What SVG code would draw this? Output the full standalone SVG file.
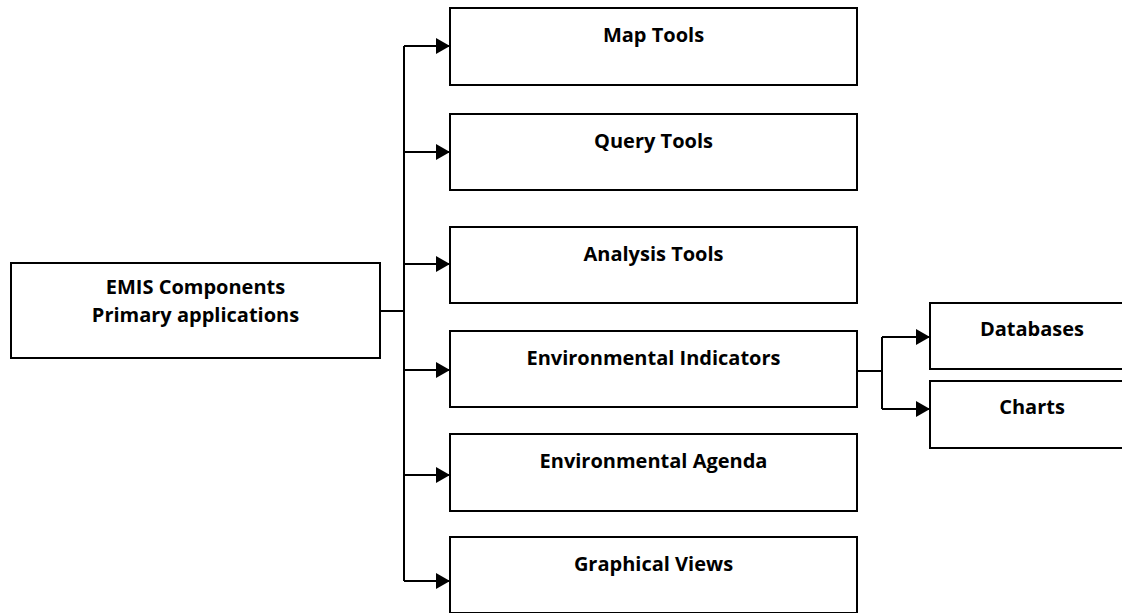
<svg xmlns="http://www.w3.org/2000/svg" width="1122" height="613" viewBox="0 0 1122 613">
<style>
.box{fill:#fff;stroke:#000;stroke-width:2}
.lbl{font-family:"Open Sans","Liberation Sans",sans-serif;font-weight:bold;font-size:20px;fill:#000;text-anchor:middle}
.con{fill:none;stroke:#000;stroke-width:2}
</style>
<defs>
<marker id="arr" markerUnits="userSpaceOnUse" markerWidth="15" markerHeight="18" refX="14" refY="8" orient="auto">
<path d="M0,0 L14,8 L0,16 Z" fill="#000"/>
</marker>
</defs>
<rect width="1122" height="613" fill="#fff"/>
<g id="connectors">
<path class="con" d="M380,311 H404"/>
<path class="con" d="M404,46 V581"/>
<path class="con" d="M404,46 H450" marker-end="url(#arr)"/>
<path class="con" d="M404,152 H450" marker-end="url(#arr)"/>
<path class="con" d="M404,264 H450" marker-end="url(#arr)"/>
<path class="con" d="M404,370 H450" marker-end="url(#arr)"/>
<path class="con" d="M404,475 H450" marker-end="url(#arr)"/>
<path class="con" d="M404,581 H450" marker-end="url(#arr)"/>
<path class="con" d="M857,371 H882"/>
<path class="con" d="M882,337 V409"/>
<path class="con" d="M882,337 H930" marker-end="url(#arr)"/>
<path class="con" d="M882,409 H930" marker-end="url(#arr)"/>
</g>
<g id="emis">
<rect class="box" x="11" y="263" width="369" height="95"/>
<text class="lbl" x="195.5" y="294">EMIS Components</text>
<text class="lbl" x="195.5" y="322">Primary applications</text>
</g>
<g id="map-tools">
<rect class="box" x="450" y="8" width="407" height="77"/>
<text class="lbl" x="653.5" y="42">Map Tools</text>
</g>
<g id="query-tools">
<rect class="box" x="450" y="114" width="407" height="76"/>
<text class="lbl" x="653.5" y="148">Query Tools</text>
</g>
<g id="analysis-tools">
<rect class="box" x="450" y="227" width="407" height="76"/>
<text class="lbl" x="653.5" y="261">Analysis Tools</text>
</g>
<g id="environmental-indicators">
<rect class="box" x="450" y="331" width="407" height="76"/>
<text class="lbl" x="653.5" y="365">Environmental Indicators</text>
</g>
<g id="environmental-agenda">
<rect class="box" x="450" y="434" width="407" height="77"/>
<text class="lbl" x="653.5" y="468">Environmental Agenda</text>
</g>
<g id="graphical-views">
<rect class="box" x="450" y="537" width="407" height="76"/>
<text class="lbl" x="653.5" y="571">Graphical Views</text>
</g>
<g id="databases">
<rect class="box" x="930" y="303" width="205" height="66"/>
<text class="lbl" x="1032" y="336">Databases</text>
</g>
<g id="charts">
<rect class="box" x="930" y="381" width="205" height="67"/>
<text class="lbl" x="1032" y="414">Charts</text>
</g>
</svg>
